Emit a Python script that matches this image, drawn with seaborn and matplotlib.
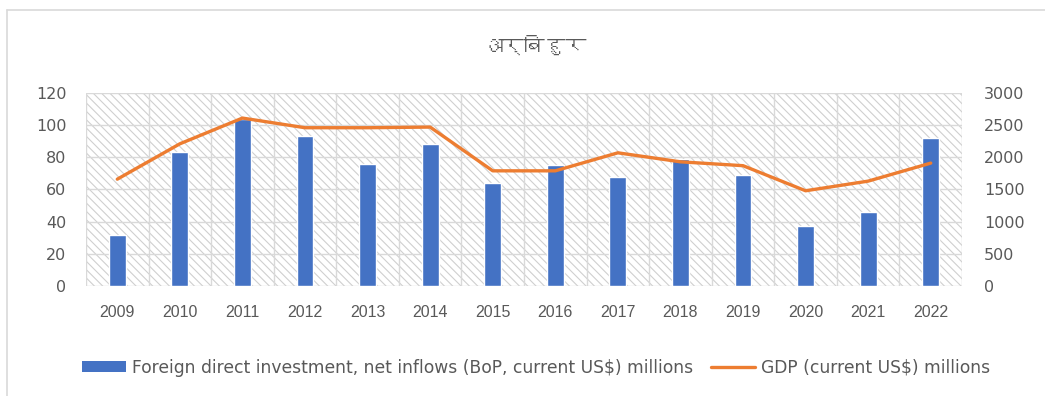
import matplotlib
matplotlib.use("Agg")
import matplotlib.pyplot as plt
from matplotlib import font_manager
from matplotlib.lines import Line2D
from matplotlib.patches import Patch
import numpy as np
import pandas as pd
import seaborn as sns

# ---- data -------------------------------------------------------------
years = ["2009", "2010", "2011", "2012", "2013", "2014", "2015",
         "2016", "2017", "2018", "2019", "2020", "2021", "2022"]
fdi_millions = [32, 83, 104, 93, 76, 88, 64, 75, 68, 79, 69, 37, 46, 92]
gdp_millions = [1660, 2210, 2610, 2460, 2460, 2470, 1790,
                1790, 2070, 1930, 1870, 1480, 1630, 1910]
title_text = "अर्बिहुर"
fdi_label = "Foreign direct investment, net inflows (BoP, current US$) millions"
gdp_label = "GDP (current US$) millions"

BAR_COLOR = "#4472C4"
LINE_COLOR = "#ED7D31"
TEXT_COLOR = "#595959"
GRID_COLOR = "#d9d9d9"


def find_font_for(char, fallback="DejaVu Sans"):
    """Return the name of an installed font that has a glyph for `char`."""
    try:
        from fontTools.ttLib import TTFont
    except Exception:
        return fallback
    seen = set()
    for entry in font_manager.fontManager.ttflist:
        if entry.fname in seen:
            continue
        seen.add(entry.fname)
        try:
            font = TTFont(entry.fname, fontNumber=0, lazy=True)
            cmap = font.getBestCmap()
            if cmap and ord(char) in cmap:
                return entry.name
        except Exception:
            continue
    return fallback


def installed(name):
    return any(f.name == name for f in font_manager.fontManager.ttflist)


sns.set_theme(style="white")
plt.rcParams["font.family"] = ["DejaVu Sans"]
plt.rcParams["hatch.linewidth"] = 0.8

df = pd.DataFrame({"year": years, "fdi": fdi_millions, "gdp": gdp_millions})
df["pos"] = np.arange(len(df))

fig = plt.figure(figsize=(10.45, 3.96), dpi=100)
ax = fig.add_axes([0.0823, 0.2778, 0.8383, 0.4874])

# hatched plot-area background
ax.patch.set_facecolor("white")
ax.patch.set_hatch("\\\\\\\\")
ax.patch.set_edgecolor("#cfcfcf")
ax.patch.set_linewidth(0)

sns.barplot(data=df, x="year", y="fdi", color=BAR_COLOR, width=0.27,
            saturation=1, ax=ax, zorder=3)
ax.set_ylim(0, 120)
ax.set_yticks(np.arange(0, 121, 20))
ax.set_xlim(-0.5, len(years) - 0.5)

# grid: horizontal at value ticks, vertical between categories
ax.set_xticks(np.arange(-0.5, len(years), 1.0), minor=True)
ax.grid(axis="y", color=GRID_COLOR, linewidth=1.0, zorder=1)
ax.grid(axis="x", which="minor", color=GRID_COLOR, linewidth=1.0, zorder=1)
ax.grid(axis="x", which="major", visible=False)
ax.set_axisbelow(True)
for s in ax.spines.values():
    s.set_visible(False)

ax.set_xlabel("")
ax.set_ylabel("")
ax.tick_params(axis="x", which="both", length=0, pad=14)
ax.tick_params(axis="y", length=0, pad=14, labelsize=11.5, labelcolor=TEXT_COLOR)
year_family = ["Liberation Sans Narrow", "DejaVu Sans"]
year_size = 12.5
if not installed("Liberation Sans Narrow"):
    year_family = ["Liberation Sans", "DejaVu Sans"]
    year_size = 11.5
for lbl in ax.get_xticklabels():
    lbl.set_family(year_family)
    lbl.set_fontsize(year_size)
    lbl.set_color(TEXT_COLOR)

# GDP line on the secondary axis
ax2 = ax.twinx()
sns.lineplot(data=df, x="pos", y="gdp", color=LINE_COLOR, linewidth=2.4,
             ax=ax2, zorder=4)
ax2.set_ylim(0, 3000)
ax2.set_yticks(np.arange(0, 3001, 500))
ax2.set_xlim(-0.5, len(years) - 0.5)
ax2.set_ylabel("")
ax2.set_xlabel("")
for s in ax2.spines.values():
    s.set_visible(False)
ax2.tick_params(axis="y", length=0, pad=16, labelsize=11.5, labelcolor=TEXT_COLOR)
ax2.grid(False)
for lbl in ax2.get_yticklabels():
    lbl.set_horizontalalignment("left")

# title
title_font = find_font_for(title_text[0])
fig.text(0.512, 0.885, title_text, ha="center", va="center", fontsize=15,
         color=TEXT_COLOR, family=[title_font, "DejaVu Sans"])

# legend
handles = [Patch(facecolor=BAR_COLOR, edgecolor="none"),
           Line2D([0], [0], color=LINE_COLOR, linewidth=2.4)]
leg = fig.legend(handles, [fdi_label, gdp_label], loc="center",
                 bbox_to_anchor=(0.513, 0.071), ncol=2, frameon=False,
                 fontsize=12.3, handlelength=2.6, handleheight=0.6,
                 handletextpad=0.35, columnspacing=1.0)
for t in leg.get_texts():
    t.set_color(TEXT_COLOR)

# chart frame (top and left edges)
fig.add_artist(Line2D([0.0067, 1.0], [0.975, 0.975], color=GRID_COLOR,
                      linewidth=1.2, transform=fig.transFigure))
fig.add_artist(Line2D([0.0067, 0.0067], [0.0, 0.975], color=GRID_COLOR,
                      linewidth=1.2, transform=fig.transFigure))

fig.savefig("out.png", dpi=100, facecolor="white")
